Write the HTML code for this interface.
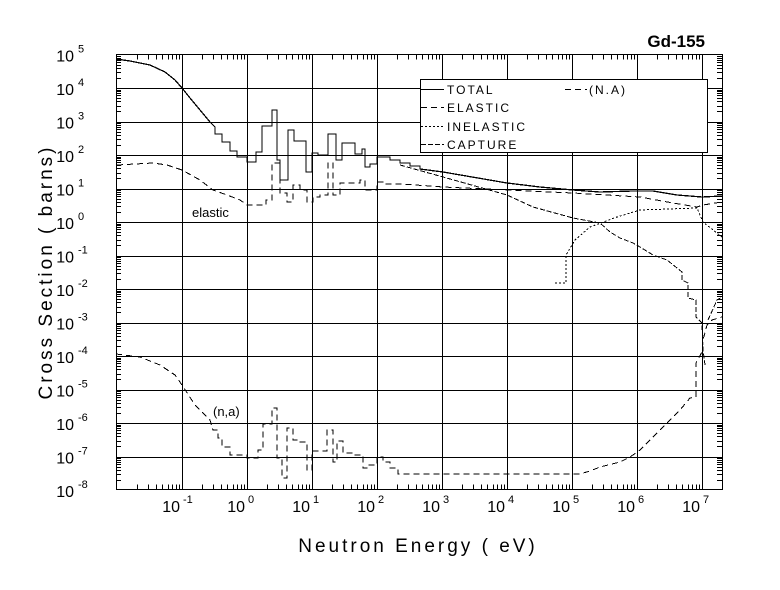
<!DOCTYPE html>
<html><head><meta charset="utf-8"><style>
html,body{margin:0;padding:0;background:#fff;}
svg{display:block;font-family:"Liberation Sans",sans-serif;}
</style></head><body>
<svg id="s" width="780" height="590" viewBox="0 0 780 590" xmlns="http://www.w3.org/2000/svg">
<rect width="780" height="590" fill="#fff"/>
<g id="grid" stroke="#000" stroke-width="1" fill="none" shape-rendering="crispEdges"></g>
<rect x="116.5" y="54.5" width="606" height="435" fill="none" stroke="#000" stroke-width="1" shape-rendering="crispEdges"/>
<g fill="none" stroke="#000" stroke-width="1" shape-rendering="crispEdges">
<path stroke-width="1.3" d="M116,59 L130,61 L150,65 L165,72 L175,80 L182,88 L190,98 L200,110 L210,122 L215,127 L215,134 L222,134 L222,142 L230,142 L230,151 L237,151 L237,157 L247,157 L247,162 L256,162 L256,152 L262,152 L262,126 L272,126 L272,110 L277,110 L277,160 L280,160 L280,180 L288,180 L288,130 L294,130 L294,141 L306,141 L306,172 L312,172 L312,153 L318,153 L318,155 L328,155 L328,134 L336,134 L336,160 L342,160 L342,143 L355,143 L355,154 L362,154 L362,149 L365,149 L365,167 L370,167 L370,164 L377,164 L377,157 L390,157 L390,160 L400,160 L400,163 L410,163 L410,166 L420,166 L420,169 L443,172 L507,183 L540,187 L573,190 L600,192 L633,191 L653,191 L677,195 L702,197 L722,196"/>
<path stroke-dasharray="6,4" d="M117,165 L153,163 L167,165 L182,170 L200,180 L213,190 L227,195 L240,200 L247,205 L266,205 L266,200 L272,200 L272,163 L280,163 L280,193 L287,193 L287,202 L293,202 L293,185 L300,185 L300,190 L307,190 L307,202 L313,202 L313,197 L320,197 L320,195 L328,195 L328,163 L333,163 L333,195 L340,195 L340,183 L360,183 L360,180 L365,180 L365,190 L377,190 L377,182 L385,182 L385,184 L400,184 L430,186 L443,187 L507,190 L573,193 L640,197 L673,203 L697,207 L703,205 L722,202"/>
<path stroke-dasharray="5,2" d="M400,165 L443,177 L507,195 L533,207 L573,218 L600,223 L610,232 L620,238 L633,243 L640,247 L653,255 L667,260 L682,272 L682,280 L688,283 L688,298 L696,300 L696,317 L702,323 L703,350 L705,365"/>
<path stroke-dasharray="5,2" d="M708,320 L717,300 L722,297"/>
<path stroke-dasharray="2,2" d="M555,283 L566,283 L566,255 L575,240 L590,227 L617,217 L640,210 L697,208 L700,215 L703,222 L722,237"/>
<path stroke-dasharray="6,4" d="M116,354 L140,357 L160,365 L175,375 L182,385 L195,405 L210,420 L213,430 L218,430 L218,438 L222,438 L222,447 L230,447 L230,455 L247,455 L247,458 L258,458 L258,450 L263,450 L263,424 L272,424 L272,408 L277,408 L277,458 L282,458 L282,478 L287,478 L287,428 L293,428 L293,440 L300,440 L300,442 L307,442 L307,470 L312,470 L312,451 L327,451 L327,430 L333,430 L333,462 L337,462 L337,441 L343,441 L343,453 L353,453 L353,455 L363,455 L363,468 L367,468 L367,465 L377,465 L377,457 L383,457 L383,462 L390,462 L390,468 L398,468 L398,474 L580,474 L590,471 L600,467 L620,462 L630,457 L640,450 L650,440 L660,430 L670,420 L680,410 L690,398 L696,397 L696,363 L702,352 L703,340 L707,325 L712,320 L722,317"/>
</g>
<text x="192" y="217" font-size="13">elastic</text>
<text x="213" y="416" font-size="13">(n,a)</text>
<text x="705" y="47" font-size="17" font-weight="bold" text-anchor="end">Gd-155</text>
<rect x="420.5" y="79.5" width="287" height="73" fill="#fff" stroke="#000" shape-rendering="crispEdges"/>
<g stroke="#000" fill="none" shape-rendering="crispEdges">
<line x1="421" y1="89.5" x2="444" y2="89.5"/>
<line x1="421" y1="107.5" x2="444" y2="107.5" stroke-dasharray="6,4"/>
<line x1="421" y1="126.5" x2="444" y2="126.5" stroke-dasharray="2,2"/>
<line x1="421" y1="144.5" x2="444" y2="144.5" stroke-dasharray="5,2"/>
<line x1="565" y1="89.5" x2="587" y2="89.5" stroke-dasharray="6,4"/>
</g>
<g font-size="12" letter-spacing="2">
<text x="447" y="94">TOTAL</text>
<text x="447" y="112">ELASTIC</text>
<text x="447" y="131">INELASTIC</text>
<text x="447" y="149">CAPTURE</text>
<text x="589" y="94">(N.A)</text>
</g>
<text x="418" y="552" font-size="19" letter-spacing="3" text-anchor="middle">Neutron Energy ( eV)</text>
<text transform="translate(52,272) rotate(-90)" font-size="19" letter-spacing="3" text-anchor="middle">Cross Section ( barns)</text>
<g id="labels" font-size="15"></g>
</svg>
<script>
var g=document.getElementById('grid'),L=document.getElementById('labels'),NS='http://www.w3.org/2000/svg';
function ln(x1,y1,x2,y2){var e=document.createElementNS(NS,'line');e.setAttribute('x1',x1);e.setAttribute('y1',y1);e.setAttribute('x2',x2);e.setAttribute('y2',y2);g.appendChild(e);}
function tx(x,y,s,fs,anc){var e=document.createElementNS(NS,'text');e.setAttribute('x',x);e.setAttribute('y',y);e.setAttribute('font-size',fs);if(anc)e.setAttribute('text-anchor',anc);e.textContent=s;L.appendChild(e);}
var X0=182,DX=65,Y0=54.5,DY=33.5,XL=116,XR=722,YT=54.5,YB=489.5;
function xp(l){return X0+(l+1)*DX;}
function yp(l){return Y0+(5-l)*DY;}
function r(v){return Math.round(v)+.5;}
for(var d=-3;d<=7;d++){
 var x=xp(d);
 if(x>XL+1&&x<XR-1){ln(r(x),YT,r(x),YB);}
 for(var m=2;m<=9;m++){var xm=xp(d+Math.log10(m));if(xm>XL&&xm<XR){ln(r(xm),YB,r(xm),YB-5);ln(r(xm),YT,r(xm),YT+5);}}
 if(d>=-1){tx(x-2,512,'10',16,'end');tx(x+1,503,String(d),11);}
}
for(var e=-8;e<=5;e++){
 var y=yp(e);
 if(e>-8&&e<5)ln(XL,r(y),XR,r(y));
 for(var m=2;m<=9;m++){var ym=yp(e+Math.log10(m));if(ym>YT&&ym<YB){ln(XL,r(ym),XL+5,r(ym));ln(XR,r(ym),XR-5,r(ym));}}
 tx(74,y+7,'10',16,'end');tx(78,y-2,String(e),11);
}
</script>
</body></html>
